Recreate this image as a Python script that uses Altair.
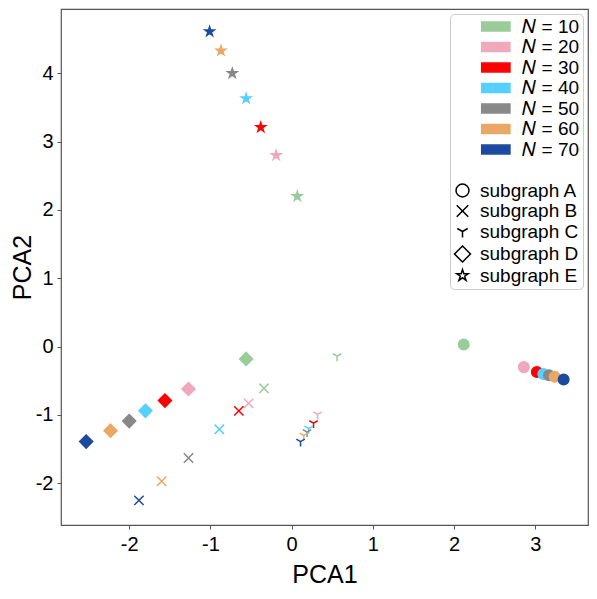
import altair as alt
import pandas as pd

# ---- data ----
n_labels = ["N = 10", "N = 20", "N = 30", "N = 40", "N = 50", "N = 60", "N = 70"]
n_colors = ["#99cc99", "#f0a8bc", "#ff0000", "#55d0ff", "#888888", "#e9a866", "#1c4aa0"]
subgraphs = ["subgraph A", "subgraph B", "subgraph C", "subgraph D", "subgraph E"]

# one value per N (10 ... 70)
x_A = [2.12, 2.86, 3.02, 3.10, 3.17, 3.24, 3.35]
y_A = [0.03, -0.30, -0.37, -0.40, -0.42, -0.44, -0.48]
x_B = [-0.34, -0.53, -0.65, -0.89, -1.27, -1.60, -1.88]
y_B = [-0.61, -0.83, -0.94, -1.21, -1.63, -1.97, -2.25]
x_C = [0.56, 0.32, 0.27, 0.21, 0.19, 0.15, 0.11]
y_C = [-0.14, -0.99, -1.12, -1.20, -1.25, -1.30, -1.39]
x_D = [-0.56, -1.27, -1.56, -1.80, -2.00, -2.23, -2.53]
y_D = [-0.18, -0.62, -0.79, -0.94, -1.09, -1.23, -1.39]
x_E = [0.07, -0.19, -0.38, -0.56, -0.73, -0.87, -1.01]
y_E = [2.20, 2.80, 3.21, 3.63, 4.00, 4.33, 4.61]

x_ticks = [-2, -1, 0, 1, 2, 3]
y_ticks = [-2, -1, 0, 1, 2, 3, 4]

xs = [x_A, x_B, x_C, x_D, x_E]
ys = [y_A, y_B, y_C, y_D, y_E]

rows = []
for i, n in enumerate(n_labels):          # draw order: increasing N
    for j, sg in enumerate(subgraphs):
        rows.append({"N": n, "subgraph": sg, "x": xs[j][i], "y": ys[j][i]})
df = pd.DataFrame(rows)

# ---- marker shapes (custom symbol paths) ----
circle = "M0.81,0A0.81,0.81,0,1,1,-0.81,0A0.81,0.81,0,1,1,0.81,0Z"
cross = "M-0.72,-0.72L0.72,0.72M-0.72,0.72L0.72,-0.72"
tri = "M0,0L0,0.75M0,0L-0.65,-0.375M0,0L0.65,-0.375"
diamond = "M0,-1L1,0L0,1L-1,0Z"
star = ("M0,-0.75L0.168,-0.232L0.713,-0.232L0.272,0.089L0.441,0.607L0,0.287"
        "L-0.441,0.607L-0.272,0.089L-0.713,-0.232L-0.168,-0.232Z")
patch = "M2.4,-0.55H5.93V0.55H2.4Z"
blank = "M0,0L0,0"

spacer = " "
keys = n_labels + [spacer] + subgraphs
fill_range = n_colors + ["transparent"] + ["transparent"] * 5
stroke_range = n_colors + ["transparent"] + ["black"] * 5
shape_range = [patch] * 7 + [blank] + [circle, cross, tri, diamond, star]

# zero-width char keeps the no-break spaces from being trimmed
pad = "\u200b" + "\u00a0" * 8
legend = alt.Legend(
    title=None, orient="top-right", offset=5, padding=3, rowPadding=0.5,
    symbolSize=256, symbolStrokeWidth=1.5,
    symbolFillColor="white", symbolStrokeColor="black",
    labelFont="Liberation Sans", labelFontSize=19, labelColor="black",
    labelOffset=8, labelLimit=400,
    strokeColor="#cccccc", fillColor="white", cornerRadius=4,
    labelExpr=("indexof(datum.label, 'N =') === 0 ? '" + pad +
               "\U0001D441' + substring(datum.label, 1) : datum.label"),
)

chart = alt.Chart(df).mark_point(opacity=1, size=169, strokeWidth=1.5).encode(
    x=alt.X("x:Q",
            scale=alt.Scale(domain=[-2.84, 3.65], nice=False, zero=False),
            axis=alt.Axis(values=x_ticks, title="PCA1",
                          labelExpr="toString(datum.value)",
                          titlePadding=8, labelPadding=5)),
    y=alt.Y("y:Q",
            scale=alt.Scale(domain=[-2.61, 4.94], nice=False, zero=False),
            axis=alt.Axis(values=y_ticks, title="PCA2",
                          labelExpr="toString(datum.value)",
                          titlePadding=0, labelPadding=4)),
    fill=alt.Fill("N:N", scale=alt.Scale(domain=keys, range=fill_range), legend=legend),
    stroke=alt.Stroke("N:N", scale=alt.Scale(domain=keys, range=stroke_range), legend=legend),
    shape=alt.Shape("subgraph:N", scale=alt.Scale(domain=keys, range=shape_range), legend=legend),
).properties(
    width=527, height=516,
    padding={"left": 2, "top": 1, "right": 1, "bottom": 0},
).configure_view(
    stroke="#555555", strokeWidth=1.2
).configure_axis(
    domain=False, grid=False,
    tickColor="#555555", tickSize=4, tickWidth=1,
    labelFont="Liberation Sans", labelFontSize=20, labelColor="black",
    titleFont="Liberation Sans", titleFontSize=25, titleFontWeight="normal",
    titleColor="black",
)

chart.save("out.html", embed_options={"renderer": "svg", "actions": False})
